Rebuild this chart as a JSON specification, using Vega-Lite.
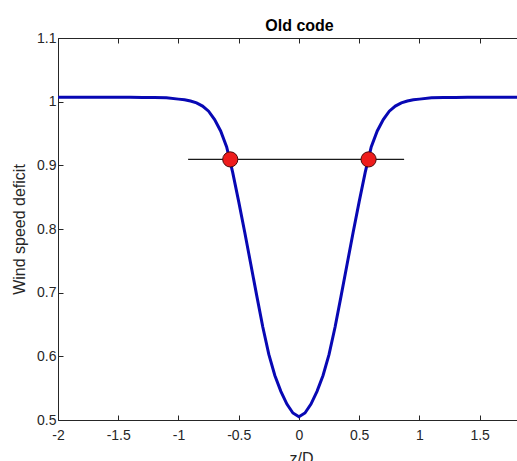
{
  "$schema": "https://vega.github.io/schema/vega-lite/v6.json",
  "width": 459,
  "height": 382,
  "autosize": {"type": "none"},
  "padding": {"left": 58, "top": 38, "right": 0, "bottom": 41},
  "background": "white",
  "config": {
    "view": {"stroke": null},
    "font": "Liberation Sans",
    "axis": {
      "grid": false,
      "domainColor": "#262626",
      "tickColor": "#262626",
      "labelColor": "#262626",
      "titleColor": "#262626",
      "labelFont": "Liberation Sans",
      "titleFont": "Liberation Sans",
      "labelFontSize": 14,
      "titleFontSize": 16,
      "titleFontWeight": "normal",
      "tickSize": -5,
      "domainWidth": 1,
      "tickWidth": 1
    }
  },
  "title": {
    "text": "Old code",
    "font": "Liberation Sans",
    "fontSize": 16,
    "fontWeight": "bold",
    "color": "#000000",
    "anchor": "middle",
    "dx": 12,
    "offset": -3
  },
  "datasets": {
    "curve": [
      {"z": -2.0, "v": 1.0068}, {"z": -1.8, "v": 1.0068}, {"z": -1.6, "v": 1.0068}, {"z": -1.4, "v": 1.0068},
      {"z": -1.3, "v": 1.0067}, {"z": -1.2, "v": 1.0066}, {"z": -1.1, "v": 1.006}, {"z": -1.0, "v": 1.004},
      {"z": -0.95, "v": 1.003}, {"z": -0.9, "v": 1.001}, {"z": -0.85, "v": 0.998}, {"z": -0.8, "v": 0.993},
      {"z": -0.75, "v": 0.985}, {"z": -0.7, "v": 0.972}, {"z": -0.65, "v": 0.954}, {"z": -0.6, "v": 0.929},
      {"z": -0.55, "v": 0.889}, {"z": -0.5, "v": 0.843}, {"z": -0.45, "v": 0.795}, {"z": -0.4, "v": 0.745},
      {"z": -0.35, "v": 0.695}, {"z": -0.3, "v": 0.646}, {"z": -0.25, "v": 0.603}, {"z": -0.2, "v": 0.570},
      {"z": -0.15, "v": 0.545}, {"z": -0.1, "v": 0.525}, {"z": -0.05, "v": 0.511}, {"z": 0.0, "v": 0.505},
      {"z": 0.05, "v": 0.511}, {"z": 0.1, "v": 0.525}, {"z": 0.15, "v": 0.545}, {"z": 0.2, "v": 0.570},
      {"z": 0.25, "v": 0.603}, {"z": 0.3, "v": 0.646}, {"z": 0.35, "v": 0.695}, {"z": 0.4, "v": 0.745},
      {"z": 0.45, "v": 0.795}, {"z": 0.5, "v": 0.843}, {"z": 0.55, "v": 0.889}, {"z": 0.6, "v": 0.929},
      {"z": 0.65, "v": 0.954}, {"z": 0.7, "v": 0.972}, {"z": 0.75, "v": 0.985}, {"z": 0.8, "v": 0.993},
      {"z": 0.85, "v": 0.998}, {"z": 0.9, "v": 1.001}, {"z": 0.95, "v": 1.003}, {"z": 1.0, "v": 1.004},
      {"z": 1.1, "v": 1.006}, {"z": 1.2, "v": 1.0066}, {"z": 1.3, "v": 1.0067}, {"z": 1.4, "v": 1.0068},
      {"z": 1.6, "v": 1.0068}, {"z": 1.8, "v": 1.0068}, {"z": 2.0, "v": 1.0068}
    ],
    "seg": [
      {"z": -0.92, "v": 0.9093},
      {"z": 0.873, "v": 0.9093}
    ],
    "pts": [
      {"z": -0.57, "v": 0.9093},
      {"z": 0.578, "v": 0.9093}
    ]
  },
  "resolve": {"axis": {"x": "independent", "y": "independent"}},
  "layer": [
    {
      "data": {"name": "seg"},
      "mark": {"type": "line", "color": "#1a1a1a", "strokeWidth": 1.2},
      "encoding": {
        "x": {
          "field": "z", "type": "quantitative",
          "scale": {"domain": [-2, 1.81], "nice": false, "zero": false},
          "axis": {"orient": "top", "labels": false, "title": null, "values": [-2, -1.5, -1, -0.5, 0, 0.5, 1, 1.5]}
        },
        "y": {
          "field": "v", "type": "quantitative",
          "scale": {"domain": [0.5, 1.1], "nice": false, "zero": false},
          "axis": null
        }
      }
    },
    {
      "data": {"name": "curve"},
      "mark": {"type": "line", "color": "#0808b4", "strokeWidth": 3, "clip": true},
      "encoding": {
        "x": {
          "field": "z", "type": "quantitative",
          "scale": {"domain": [-2, 1.81], "nice": false, "zero": false},
          "axis": {
            "orient": "bottom",
            "title": "z/D",
            "values": [-2, -1.5, -1, -0.5, 0, 0.5, 1, 1.5],
            "labelExpr": "'' + datum.value",
            "labelPadding": 13,
            "labelFlush": false,
            "titleX": 243,
            "titleY": 43,
            "titleBaseline": "alphabetic",
            "titleAlign": "center"
          }
        },
        "y": {
          "field": "v", "type": "quantitative",
          "scale": {"domain": [0.5, 1.1], "nice": false, "zero": false},
          "axis": {
            "orient": "left",
            "title": "Wind speed deficit",
            "values": [0.5, 0.6, 0.7, 0.8, 0.9, 1, 1.1],
            "labelExpr": "'' + datum.value",
            "labelPadding": 7,
            "labelFlush": false,
            "titleAngle": -90,
            "titleX": -39,
            "titleY": 191,
            "titleBaseline": "middle",
            "titleAlign": "center"
          }
        }
      }
    },
    {
      "data": {"name": "pts"},
      "mark": {"type": "point", "shape": "circle", "filled": true, "size": 230, "color": "#ee1c1c", "stroke": "#4a0a0a", "strokeWidth": 1, "opacity": 1},
      "encoding": {
        "x": {"field": "z", "type": "quantitative", "scale": {"domain": [-2, 1.81], "nice": false, "zero": false}, "axis": null},
        "y": {"field": "v", "type": "quantitative", "scale": {"domain": [0.5, 1.1], "nice": false, "zero": false}, "axis": null}
      }
    }
  ]
}
